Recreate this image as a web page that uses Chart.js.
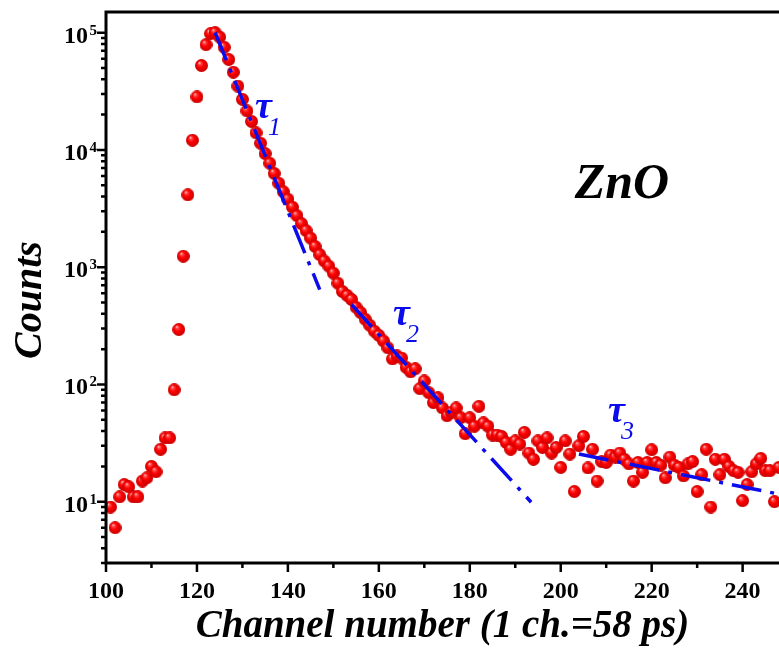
<!DOCTYPE html>
<html>
<head>
<meta charset="utf-8">
<script src="https://cdn.jsdelivr.net/npm/chart.js@4.4.0/dist/chart.umd.min.js"></script>
<style>
  html, body { margin: 0; padding: 0; background: #fff; }
  #wrap { width: 779px; height: 656px; }
</style>
</head>
<body>
<div id="wrap"><canvas id="decayChart" width="779" height="656"></canvas></div>
<script>
// measured decay curve, one point per channel
const channels = [
  101, 102, 103, 104, 105, 106, 107, 108, 109, 110, 111, 112, 113, 114, 115, 116, 117, 118, 119, 120,
  121, 122, 123, 124, 125, 126, 127, 128, 129, 130, 131, 132, 133, 134, 135, 136, 137, 138, 139, 140,
  141, 142, 143, 144, 145, 146, 147, 148, 149, 150, 151, 152, 153, 154, 155, 156, 157, 158, 159, 160,
  161, 162, 163, 164, 165, 166, 167, 168, 169, 170, 171, 172, 173, 174, 175, 176, 177, 178, 179, 180,
  181, 182, 183, 184, 185, 186, 187, 188, 189, 190, 191, 192, 193, 194, 195, 196, 197, 198, 199, 200,
  201, 202, 203, 204, 205, 206, 207, 208, 209, 210, 211, 212, 213, 214, 215, 216, 217, 218, 219, 220,
  221, 222, 223, 224, 225, 226, 227, 228, 229, 230, 231, 232, 233, 234, 235, 236, 237, 238, 239, 240,
  241, 242, 243, 244, 245, 246, 247, 248
];
const counts = [
  9, 6, 11, 14, 13.4, 11, 11, 15, 16, 20, 18, 28, 35, 35, 90, 294, 1240, 4140, 12100, 28300,
  52400, 79000, 98000, 100000, 91700, 75000, 59000, 46000, 35000, 27000, 21500, 17500, 14000, 11400, 9300, 7700, 6300, 5200, 4400, 3800,
  3250, 2750, 2350, 2050, 1770, 1500, 1280, 1130, 1020, 890, 730, 620, 575, 530, 455, 410, 360, 320, 285, 262,
  235, 205, 165, 175, 168, 140, 128, 136, 92, 107, 85, 70, 77, 63, 54, 58, 63, 52, 38, 52,
  44, 65, 47, 44, 37, 37, 36, 32, 28, 33, 31, 39, 26, 23, 33, 29, 35, 26, 29, 19.6,
  33, 25.5, 12.2, 30, 36, 19.4, 28, 15, 22, 21.6, 25, 24, 26, 23, 21, 15, 21.6, 17.8, 21.6, 27.7,
  21.6, 20.5, 16, 24, 20.5, 19.6, 16.6, 21, 22, 12.2, 17, 28, 9, 23, 17, 23, 20, 18.4, 17.8, 10.2,
  14, 18, 21, 23.4, 18.4, 18.4, 10, 19.6
];

// exponential fit segments (start / end)
const fit1Channels = [124, 147];
const fit1Counts = [100000, 644];
const fit2Channels = [154, 193.5];
const fit2Counts = [480, 9.9];
const fit3Channels = [204, 248];
const fit3Counts = [25.5, 11.6];

const xLabels = [100, 120, 140, 160, 180, 200, 220, 240];
const yExponents = [1, 2, 3, 4, 5];
const tauSubs = ["1", "2", "3"];

const SERIF = "'Liberation Serif', 'Times New Roman', serif";
const BLUE = "#0b0bec";

function toXY(xs, ys) {
  return xs.map((x, i) => ({ x: x, y: ys[i] }));
}

// little shaded red ball used as point style
function makeBall(r) {
  const c = document.createElement("canvas");
  const d = 2 * r + 1;
  c.width = d;
  c.height = d;
  const g = c.getContext("2d");
  const grad = g.createRadialGradient(r * 0.7, r * 0.6, 0, r + 0.5, r + 0.5, r + 0.5);
  grad.addColorStop(0, "#ffe4e4");
  grad.addColorStop(0.22, "#ff4848");
  grad.addColorStop(0.5, "#ff0000");
  grad.addColorStop(1, "#c40000");
  g.fillStyle = grad;
  g.beginPath();
  g.arc(r + 0.5, r + 0.5, r + 0.5, 0, Math.PI * 2);
  g.fill();
  return c;
}

const framePlugin = {
  id: "frame",
  afterDraw(chart) {
    const { ctx, chartArea: a, scales } = chart;
    const x = scales.x;
    const y = scales.y;
    ctx.save();
    ctx.strokeStyle = "#000";
    ctx.fillStyle = "#000";

    // axis frame (left, top, bottom)
    ctx.lineWidth = 3;
    ctx.beginPath();
    ctx.moveTo(a.right + 2, a.top);
    ctx.lineTo(a.left, a.top);
    ctx.lineTo(a.left, a.bottom);
    ctx.lineTo(a.right + 2, a.bottom);
    ctx.stroke();

    // x ticks: major every 20, minor every 10
    ctx.lineWidth = 2.5;
    ctx.beginPath();
    for (let v = x.min; v <= x.max; v += 10) {
      const px = x.getPixelForValue(v);
      const len = v % 20 === 0 ? 9 : 5;
      ctx.moveTo(px, a.bottom);
      ctx.lineTo(px, a.bottom + len);
    }
    // y ticks: decades and 2..9 minors
    for (let e = 0; e <= 5; e++) {
      for (let m = 1; m <= 9; m++) {
        const v = m * Math.pow(10, e);
        if (v < y.min || v > y.max) continue;
        const py = y.getPixelForValue(v);
        const len = m === 1 ? 9 : 5;
        ctx.moveTo(a.left - len, py);
        ctx.lineTo(a.left, py);
      }
    }
    ctx.stroke();

    // y tick labels 10^n
    yExponents.forEach((e) => {
      const py = y.getPixelForValue(Math.pow(10, e));
      ctx.font = "bold 24px " + SERIF;
      ctx.textAlign = "right";
      ctx.textBaseline = "alphabetic";
      ctx.fillText("10", 88, py + 10);
      ctx.font = "bold 15px " + SERIF;
      ctx.textAlign = "left";
      ctx.fillText(String(e), 89.5, py + 2);
    });

    // y axis title
    ctx.save();
    ctx.translate(31, 300);
    ctx.rotate(-Math.PI / 2);
    ctx.font = "bold italic 40px " + SERIF;
    ctx.textAlign = "center";
    ctx.textBaseline = "middle";
    ctx.fillText("Counts", 0, 0);
    ctx.restore();

    // sample name
    ctx.font = "bold italic 50px " + SERIF;
    ctx.textAlign = "center";
    ctx.textBaseline = "alphabetic";
    ctx.fillText("ZnO", 622, 198);

    // lifetime labels
    const tauPos = [[255, 118], [393, 325], [608, 422]];
    ctx.fillStyle = BLUE;
    ctx.textAlign = "left";
    tauSubs.forEach((s, i) => {
      const [tx, ty] = tauPos[i];
      ctx.font = "bold italic 38px " + SERIF;
      ctx.fillText("\u03C4", tx, ty);
      ctx.font = "italic 26px " + SERIF;
      ctx.fillText(s, tx + 13, ty + 17);
    });
    ctx.restore();
  }
};

const ball = makeBall(6);
const fitStyle = {
  type: "line",
  borderColor: BLUE,
  borderWidth: 3.5,
  borderDash: [30, 9, 4, 9],
  pointRadius: 0,
  fill: false,
  order: 0
};

new Chart(document.getElementById("decayChart"), {
  type: "scatter",
  data: {
    datasets: [
      Object.assign({ data: toXY(fit1Channels, fit1Counts) }, fitStyle),
      Object.assign({ data: toXY(fit2Channels, fit2Counts) }, fitStyle),
      Object.assign({ data: toXY(fit3Channels, fit3Counts) }, fitStyle),
      {
        label: "ZnO",
        data: toXY(channels, counts),
        pointStyle: ball,
        pointRadius: 6.5,
        order: 1
      }
    ]
  },
  options: {
    responsive: false,
    animation: false,
    devicePixelRatio: 1,
    layout: { autoPadding: false, padding: { top: 12, right: 0, left: 0, bottom: 0 } },
    plugins: { legend: { display: false }, tooltip: { enabled: false } },
    scales: {
      x: {
        type: "linear",
        min: 100,
        max: 248,
        grid: { display: false, drawTicks: false },
        border: { display: false },
        ticks: {
          stepSize: 20,
          includeBounds: false,
          padding: 14,
          autoSkip: false,
          maxRotation: 0,
          color: "#000",
          font: { family: SERIF, size: 24, weight: "bold" },
          callback: (v) => (xLabels.includes(v) ? v : "")
        },
        title: {
          display: true,
          text: "Channel number (1 ch.=58 ps)",
          color: "#000",
          font: { family: SERIF, size: 39, weight: "bold", style: "italic" },
          padding: { top: 0, bottom: 6 }
        },
        afterFit: (s) => {
          s.height = 93;
          s.paddingLeft = 0;
          s.paddingRight = 0;
        }
      },
      y: {
        type: "logarithmic",
        min: 3,
        max: 150000,
        grid: { display: false, drawTicks: false },
        border: { display: false },
        ticks: { display: false },
        afterFit: (s) => { s.width = 106; }
      }
    }
  },
  plugins: [framePlugin]
});
</script>
</body>
</html>
